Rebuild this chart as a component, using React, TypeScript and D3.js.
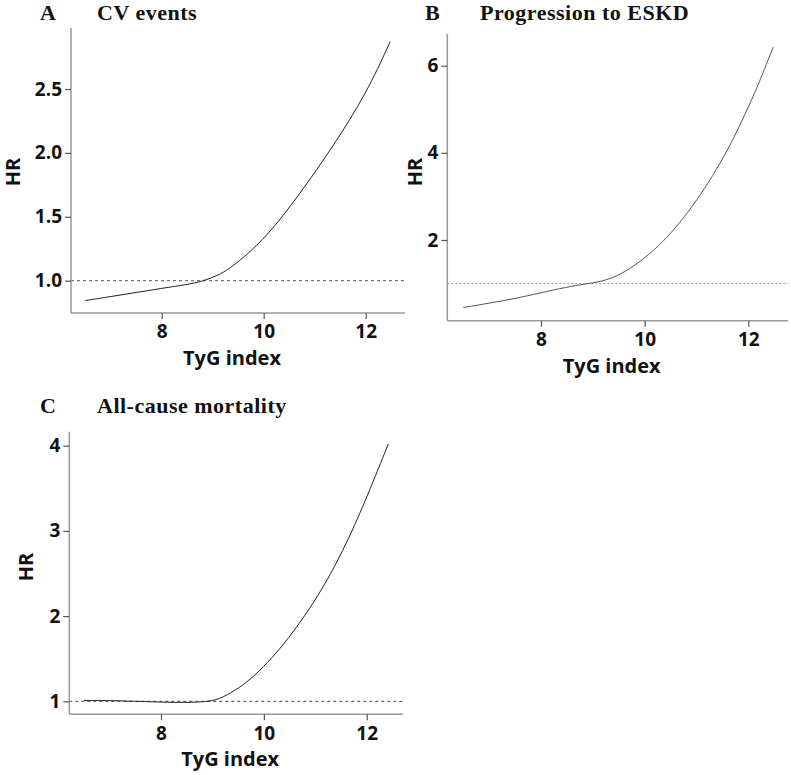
import React, { useEffect, useRef } from 'react';
import * as d3 from 'd3';

const tygA = [6.5, 7, 7.5, 8, 8.5, 8.8, 9.1, 9.4, 10.06, 10.71, 11.36, 12.02, 12.48];
const hrA = [0.844, 0.876, 0.908, 0.94, 0.97, 0.995, 1.04, 1.11, 1.34, 1.68, 2.05, 2.47, 2.87];

const tygB = [6.5, 7, 7.5, 8, 8.5, 8.85, 9.14, 9.46, 9.78, 10.1, 10.43, 10.75, 11.07, 11.39, 11.71, 12.16, 12.48];
const hrB = [0.45, 0.55, 0.655, 0.79, 0.92, 0.99, 1.04, 1.16, 1.39, 1.68, 2.05, 2.5, 3.02, 3.62, 4.3, 5.45, 6.43];

const tygC = [6.5, 7, 7.5, 8, 8.5, 8.9, 9.1, 9.34, 9.67, 9.99, 10.32, 10.64, 10.96, 11.29, 11.61, 11.94, 12.42];
const hrC = [1.01, 1.01, 1.0, 0.99, 0.985, 0.995, 1.02, 1.09, 1.22, 1.4, 1.62, 1.87, 2.15, 2.48, 2.86, 3.3, 4.02];

const xTicks = [8, 10, 12];
const yTicksA = [1.0, 1.5, 2.0, 2.5];
const yTicksB = [2, 4, 6];
const yTicksC = [1, 2, 3, 4];

const panels = [
  {
    letter: 'A', title: 'CV events', xs: tygA, ys: hrA, yTicks: yTicksA, fmt: '.1f',
    x0: 71, x1: 405, top: 28, bottom: 313,
    xr: [161.7, 365.7], yd: [1, 2.5], yr: [280.7, 89],
    titleY: 20, letterX: 40, titleX: 97, hrX: 20, hrY: 172,
    refDash: '3,3', refColor: '#555', curveColor: '#222'
  },
  {
    letter: 'B', title: 'Progression to ESKD', xs: tygB, ys: hrB, yTicks: yTicksB, fmt: 'd',
    x0: 447.3, x1: 788, top: 34, bottom: 320.7,
    xr: [541, 748.3], yd: [2, 6], yr: [240, 65.7],
    titleY: 20, letterX: 425, titleX: 480, hrX: 422, hrY: 172,
    refDash: '2,2', refColor: '#999', curveColor: '#555'
  },
  {
    letter: 'C', title: 'All-cause mortality', xs: tygC, ys: hrC, yTicks: yTicksC, fmt: 'd',
    x0: 69.3, x1: 403, top: 431.7, bottom: 714.3,
    xr: [161, 366.7], yd: [1, 4], yr: [701.3, 445.7],
    titleY: 413, letterX: 40, titleX: 97, hrX: 33, hrY: 567,
    refDash: '3,3', refColor: '#444', curveColor: '#222'
  }
];

const App = () => {
  const svgRef = useRef<SVGSVGElement>(null);

  useEffect(() => {
    const svg = d3.select(svgRef.current);
    svg.selectAll('*').remove();

    panels.forEach(p => {
      const g = svg.append('g');
      const x = d3.scaleLinear().domain([8, 12]).range(p.xr);
      const y = d3.scaleLinear().domain(p.yd).range(p.yr);

      // reference line HR = 1
      g.append('line')
        .attr('x1', p.x0).attr('x2', p.x1)
        .attr('y1', y(1)).attr('y2', y(1))
        .attr('stroke', p.refColor)
        .attr('stroke-width', 1)
        .attr('stroke-dasharray', p.refDash);

      const line = d3.line<number>()
        .x((d, i) => x(p.xs[i]))
        .y(d => y(d))
        .curve(d3.curveBasis);

      g.append('path')
        .datum(p.ys)
        .attr('d', line)
        .attr('fill', 'none')
        .attr('stroke', p.curveColor)
        .attr('stroke-width', 1);

      // axes
      g.append('line')
        .attr('x1', p.x0).attr('x2', p.x0)
        .attr('y1', p.top).attr('y2', p.bottom)
        .attr('stroke', '#999').attr('stroke-width', 1.5);
      g.append('line')
        .attr('x1', p.x0).attr('x2', p.x1)
        .attr('y1', p.bottom).attr('y2', p.bottom)
        .attr('stroke', '#999').attr('stroke-width', 1.5);

      const yAxis = g.append('g')
        .attr('transform', `translate(${p.x0},0)`)
        .call(d3.axisLeft(y).tickValues(p.yTicks).tickFormat(d3.format(p.fmt)).tickSize(6).tickPadding(3));
      const xAxis = g.append('g')
        .attr('transform', `translate(0,${p.bottom})`)
        .call(d3.axisBottom(x).tickValues(xTicks).tickFormat(d3.format('d')).tickSize(6).tickPadding(6));

      [yAxis, xAxis].forEach(a => {
        a.select('.domain').remove();
        a.selectAll('line').attr('stroke', '#555').attr('stroke-width', 1.2);
        a.selectAll('text')
          .attr('fill', '#111')
          .style('font-family', '"Open Sans", sans-serif')
          .style('font-weight', 'bold')
          .style('font-size', '19px');
      });

      // axis titles
      g.append('text')
        .attr('x', (p.x0 + p.x1) / 2 - 6)
        .attr('y', p.bottom + 52)
        .attr('text-anchor', 'middle')
        .style('font-family', '"Open Sans", sans-serif')
        .style('font-weight', 'bold')
        .style('font-size', '20px')
        .attr('fill', '#111')
        .text('TyG index');

      g.append('text')
        .attr('transform', `translate(${p.hrX},${p.hrY}) rotate(-90)`)
        .attr('text-anchor', 'middle')
        .style('font-family', '"Open Sans", sans-serif')
        .style('font-weight', 'bold')
        .style('font-size', '20px')
        .attr('fill', '#111')
        .text('HR');

      // panel titles
      g.append('text')
        .attr('x', p.letterX).attr('y', p.titleY)
        .style('font-family', '"Liberation Serif", serif')
        .style('font-weight', 'bold')
        .style('font-size', '22px')
        .style('letter-spacing', '0.5px')
        .attr('fill', '#111')
        .text(p.letter);
      g.append('text')
        .attr('x', p.titleX).attr('y', p.titleY)
        .style('font-family', '"Liberation Serif", serif')
        .style('font-weight', 'bold')
        .style('font-size', '22px')
        .style('letter-spacing', '0.5px')
        .attr('fill', '#111')
        .text(p.title);
    });
  }, []);

  return (
    <svg ref={svgRef} width={791} height={775}
      style={{ position: 'absolute', left: 0, top: 0, background: '#fff' }}></svg>
  );
};

export default App;
